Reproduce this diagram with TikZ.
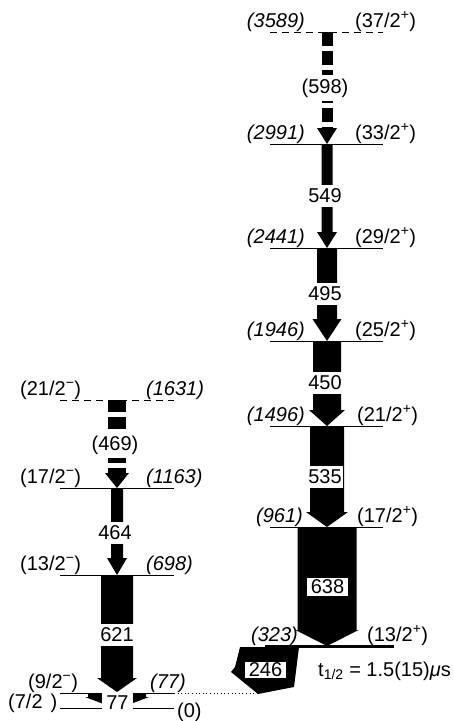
\documentclass[tikz,border=0pt]{standalone}
\usepackage{fontspec}
\setmainfont{Liberation Sans}
\usetikzlibrary{calc}
\newcommand{\gband}[5]{% top, tip, half band, half head, head length
  \fill (#1) ++(-#3,0) -- ++(2*#3,0) -- ($(#2)+(#3,-#5)$) -- ($(#2)+(#4,-#5)$) -- (#2)
    -- ($(#2)+(-#4,-#5)$) -- ($(#2)+(-#3,-#5)$) -- cycle;}
\newcommand{\gdash}[6]{% top, tip, half band, half head, head length, dash pattern
  \draw[line width=2*#3, dash pattern=#6] (#1) -- ($(#2)+(0,-#5)$);
  \fill ($(#2)+(#4,-#5)$) -- (#2) -- ($(#2)+(-#4,-#5)$) -- cycle;}
\tikzset{
  every node/.style={font=\fontsize{20}{24}\selectfont},
  lvl/.style={line width=0.8pt},
  lvldash/.style={line width=0.8pt, dash pattern=on 7pt off 5pt},
  en/.style={font=\fontsize{20}{24}\selectfont\itshape, anchor=base east, inner sep=0pt},
  enl/.style={font=\fontsize{20}{24}\selectfont\itshape, anchor=base west, inner sep=0pt},
  spr/.style={anchor=base west, inner sep=0pt},
  glab/.style={fill=white, inner xsep=1pt, inner ysep=3.5pt},
  gbox/.style={fill=white, draw=black, line width=0.5pt, inner xsep=4.5pt, inner ysep=2.5pt},
}
\begin{document}
\begin{tikzpicture}[x=1pt,y=-1pt]
\useasboundingbox (0,0) rectangle (453,721);
% ---- right band levels
\coordinate (rA1) at (270,32);  \coordinate (rA2) at (383,32);
\coordinate (rB1) at (270,144); \coordinate (rB2) at (383,144);
\coordinate (rC1) at (270,248); \coordinate (rC2) at (383,248);
\coordinate (rD1) at (270,341); \coordinate (rD2) at (383,341);
\coordinate (rE1) at (270,426); \coordinate (rE2) at (383,426);
\coordinate (rF1) at (270,527); \coordinate (rF2) at (383,527);
\coordinate (rG1) at (265,646.5); \coordinate (rG2) at (394,646.5);
\draw[lvldash] (rA1) -- (rA2);
\draw[lvl] (rB1) -- (rB2);
\draw[lvl] (rC1) -- (rC2);
\draw[lvl] (rD1) -- (rD2);
\draw[lvl] (rE1) -- (rE2);
\draw[lvl] (rF1) -- (rF2);
% ---- left band levels
\coordinate (lA1) at (60,400); \coordinate (lA2) at (174,400);
\coordinate (lB1) at (60,488); \coordinate (lB2) at (174,488);
\coordinate (lC1) at (60,575); \coordinate (lC2) at (174,575);
\coordinate (lD1) at (60,693); \coordinate (lD2) at (174,693);
\coordinate (lE1) at (60,708); \coordinate (lE2) at (174,708);
\coordinate (dotEnd) at (257,693);
\draw[lvldash] (lA1) -- (lA2);
\draw[lvl] (lB1) -- (lB2);
\draw[lvl] (lC1) -- (lC2);
\draw[lvl] (lD1) -- (lD2);
\draw[lvl] (lE1) -- (lE2);
\draw[line width=0.8pt, dash pattern=on 1pt off 2.6pt] (lD2) -- (dotEnd);
% ---- right band transitions
\coordinate (t598a) at (327,32);  \coordinate (t598b) at (327,144);
\coordinate (t549a) at (327,144); \coordinate (t549b) at (327,248);
\coordinate (t495a) at (327,248); \coordinate (t495b) at (327,341);
\coordinate (t450a) at (327,341); \coordinate (t450b) at (327,426);
\coordinate (t535a) at (327,426); \coordinate (t535b) at (327,527);
\coordinate (t638a) at (327,527); \coordinate (t638b) at (327,646);
\gdash{t598a}{t598b}{5.5}{10}{16}{on 14pt off 5pt}
\gband{t549a}{t549b}{5.5}{10}{16}
\gband{t495a}{t495b}{10}{14.5}{22}
\gband{t450a}{t450b}{14}{18}{16}
\gband{t535a}{t535b}{17}{21}{15}
\gband{t638a}{t638b}{29.5}{31.5}{16}
% 246 transition
\fill (240,647) -- (299,647) -- (294,687) -- (258,694) -- (231,672) -- (235,667) -- cycle;
\draw[line width=3pt] (rG1) -- (rG2);
% ---- left band transitions
\coordinate (t469a) at (117,400); \coordinate (t469b) at (117,488);
\coordinate (t464a) at (117,488); \coordinate (t464b) at (117,575);
\coordinate (t621a) at (117,575); \coordinate (t621b) at (117,692);
\coordinate (t77a) at (117,693);  \coordinate (t77b) at (117,709);
\gdash{t469a}{t469b}{9}{12}{15}{on 12pt off 5pt}
\gband{t464a}{t464b}{6}{10}{17}
\gband{t621a}{t621b}{16}{20}{14}
\gband{t77a}{t77b}{29}{32}{12}
% ---- gamma labels
\node[glab] (g598) at (325,88) {(598)};
\node[glab] (g549) at (325,196) {549};
\node[glab] (g495) at (325,294) {495};
\node[glab] (g450) at (325,383) {450};
\node[glab] (g535) at (325,477) {535};
\node[gbox] (g638) at (327.5,587) {638};
\node[gbox, inner ysep=1.5pt] (g246) at (265.5,670) {246};
\node[glab] (g469) at (115,445) {(469)};
\node[glab] (g464) at (115,533) {464};
\node[glab] (g621) at (117,635) {621};
\node[fill=white, inner sep=0pt, minimum width=31pt, minimum height=19pt] (g77) at (117.5,702.5) {77};
% ---- right level labels
\node[en] (eA) at (305,27) {(3589)};
\node[spr] (sA) at (355,27) {(37/2\textsuperscript{+})};
\node[en] (eB) at (305,139) {(2991)};
\node[spr] (sB) at (355,139) {(33/2\textsuperscript{+})};
\node[en] (eC) at (305,243) {(2441)};
\node[spr] (sC) at (355,243) {(29/2\textsuperscript{+})};
\node[en] (eD) at (305,336) {(1946)};
\node[spr] (sD) at (355,336) {(25/2\textsuperscript{+})};
\node[en] (eE) at (305,421) {(1496)};
\node[spr] (sE) at (357,421) {(21/2\textsuperscript{+})};
\node[en] (eF) at (303,522) {(961)};
\node[spr] (sF) at (357,522) {(17/2\textsuperscript{+})};
\node[en] (eG) at (298,641) {(323)};
\node[spr] (sG) at (367,641) {(13/2\textsuperscript{+})};
\node[spr] (thalf) at (318,676) {t\textsubscript{1/2} = 1.5(15)\textit{μ}s};
% ---- left level labels
\node[spr] (sLA) at (20,395) {(21/2\textsuperscript{−})};
\node[enl] (eLA) at (146,395) {(1631)};
\node[spr] (sLB) at (20,483) {(17/2\textsuperscript{−})};
\node[enl] (eLB) at (146,483) {(1163)};
\node[spr] (sLC) at (20,570) {(13/2\textsuperscript{−})};
\node[enl] (eLC) at (146,570) {(698)};
\node[spr] (sLD) at (28,688) {(9/2\textsuperscript{−})};
\node[enl] (eLD) at (150,688) {(77)};
\node[spr] (sLE) at (8,708) {(7/2\hspace{8pt})};
\node[spr] (eLE) at (177,717) {(0)};
\end{tikzpicture}
\end{document}
